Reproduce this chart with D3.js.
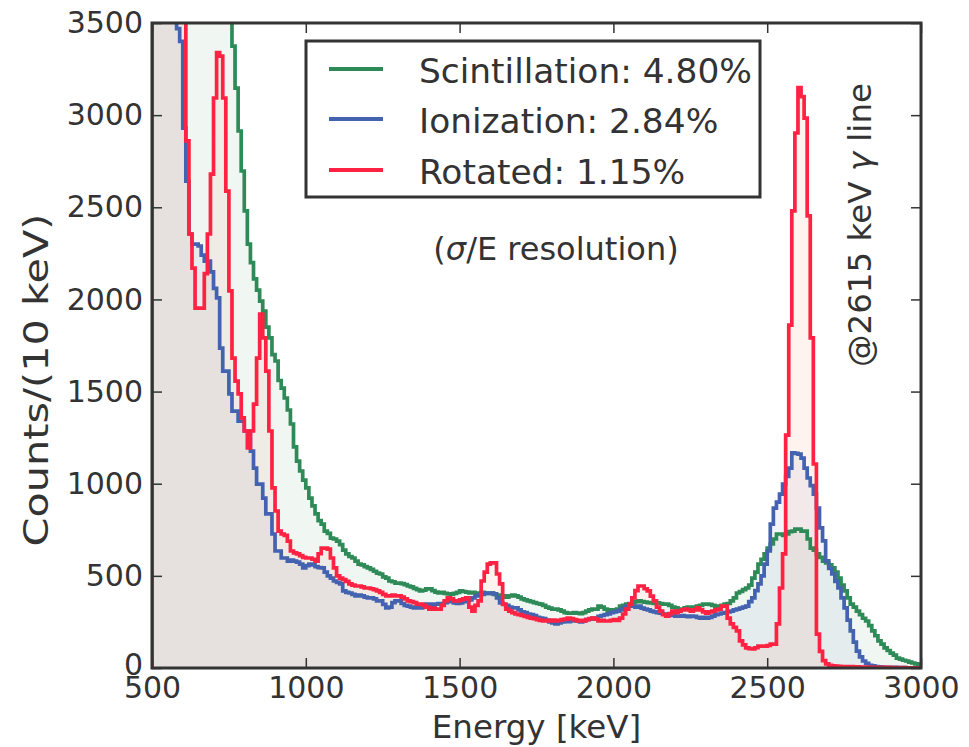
<!DOCTYPE html>
<html><head><meta charset="utf-8">
<script src="https://cdn.jsdelivr.net/npm/d3@7"></script>
<style>
body{margin:0;background:#fff}
svg text{font-family:"DejaVu Sans",sans-serif;fill:#333}
</style>
</head><body>
<svg id="c" width="969" height="747"></svg>
<script>
// ---------------- data (counts per 10 keV bin, bins start at 500 keV) ----------------
const binStart = 500, binWidth = 10, binCount = 250;
const seriesNames = ["Scintillation: 4.80%", "Ionization: 2.84%", "Rotated: 1.15%"];
const xTicks = [500, 1000, 1500, 2000, 2500, 3000];
const yTicks = [0, 500, 1000, 1500, 2000, 2500, 3000, 3500];

const scintillation = [
8500,8100,7700,7300,7000,6700,6400,6100,5850,5600,
5400,5200,5000,4850,4700,4550,4400,4300,4200,4100,
4000,3900,3800,3700,3650,3580,3375,3147,2914,2697,
2480,2300,2200,2111,2050,1991,1937,1850,1791,1700,
1666,1560,1519,1465,1400,1324,1200,1123,1069,1020,
977,922,880,836,800,781,743,730,705,700,
689,670,640,619,605,597,580,564,560,550,
543,535,525,515,510,495,488,472,468,461,
461,458,452,445,440,432,425,418,422,429,
429,420,412,407,410,405,402,400,405,410,
418,415,412,407,410,407,405,410,407,405,
407,400,395,391,391,385,391,395,391,385,
375,370,364,360,355,350,347,340,330,325,
320,320,315,309,300,298,298,300,298,295,
300,309,315,320,320,336,330,320,309,315,
309,320,336,340,347,350,355,360,364,360,
358,355,353,350,353,350,347,347,340,330,
326,320,320,326,330,326,330,336,340,347,
347,345,340,336,336,340,347,350,364,380,
407,415,425,434,450,488,520,564,590,619,
650,673,700,727,727,720,727,740,743,754,
754,743,743,700,651,640,619,600,580,570,
560,543,520,488,450,418,380,347,330,309,
290,270,255,230,201,175,147,130,109,95,
81,70,54,48,42,38,32,27,22,18
];

const ionization = [
7500,7000,6500,6000,5500,5000,4500,3800,3470,3400,
2930,2642,2355,2300,2300,2290,2240,2208,2208,2150,
2060,2008,1736,1611,1611,1487,1394,1394,1340,1340,
1286,1286,1177,1085,998,998,922,836,836,727,
635,635,597,597,580,585,580,575,564,543,
555,564,560,550,545,543,520,500,488,472,
465,456,418,410,407,400,391,395,391,385,
380,380,375,364,364,345,326,330,355,364,
364,350,340,336,330,326,330,326,335,347,
347,340,347,350,347,355,364,360,353,350,
353,360,364,370,380,391,395,400,407,405,
407,402,380,353,345,340,330,326,326,315,
305,300,293,290,285,275,271,268,260,250,
245,239,245,250,255,252,255,258,255,250,
255,262,265,271,271,280,285,290,293,300,
305,309,315,325,336,340,336,330,336,325,
320,315,309,305,300,298,293,293,290,285,
282,282,285,282,278,282,280,275,271,275,
271,275,282,290,293,298,300,305,309,315,
320,325,330,336,360,380,420,456,500,564,
635,781,868,900,944,998,1040,1085,1167,1165,
1161,1139,1085,1031,990,944,868,760,690,581,
540,510,470,434,380,326,260,201,140,92,
60,38,25,15,11,8,6,5,4,4,
3,3,2,2,2,1,1,1,1,1
];

const rotated = [
9500,9000,8500,8000,7500,7000,6500,6000,5200,4400,
3700,2860,2355,2170,1953,1953,1953,2140,2355,2680,
3093,3340,3320,3093,2588,2046,1682,1557,1487,1357,
1286,1194,1286,1432,1682,1921,1791,1611,1286,977,
852,743,727,720,689,635,625,619,610,600,
597,597,590,580,620,651,651,645,597,543,
500,488,480,470,456,450,445,445,440,434,
434,430,425,418,410,400,391,391,395,391,
391,385,375,364,360,355,347,347,340,330,
320,325,320,320,340,364,380,375,364,364,
370,375,380,330,309,340,364,472,520,564,
570,570,510,456,347,320,309,300,293,290,
285,280,275,271,268,262,258,255,258,255,
260,255,258,262,265,271,268,262,255,258,
255,262,268,271,265,255,258,255,255,258,
262,258,271,293,320,347,380,420,445,445,
430,418,390,364,330,309,290,282,295,309,
300,309,315,320,315,309,315,326,315,305,
298,305,309,315,320,336,336,271,239,220,
201,147,125,109,105,103,110,119,119,119,
122,130,130,239,434,619,1264,1861,2480,2903,
3150,3100,2984,2453,1791,1107,184,90,40,22,
14,11,10,9,8,8,7,7,6,6,
5,5,5,4,4,4,3,3,3,3,
2,2,2,2,2,1,1,1,1,1
];

// ---------------- drawing ----------------
const M = {left:152, right:921, top:23, bottom:668};
const svg = d3.select("#c");
const x = d3.scaleLinear().domain([500, 3000]).range([M.left, M.right]);
const y = d3.scaleLinear().domain([0, 3500]).range([M.bottom, M.top]);

const edges = d3.range(binCount + 1).map(i => binStart + binWidth * i);

const styles = [
  {vals: scintillation, line: "#2e8b57", fill: "rgb(46,139,87)",  op: 0.07},
  {vals: ionization,    line: "#4363b0", fill: "rgb(64,96,176)",  op: 0.07},
  {vals: rotated,       line: "#ff2242", fill: "rgb(255,100,60)", op: 0.08}
];

svg.append("defs").append("clipPath").attr("id","plotclip")
  .append("rect").attr("x", M.left).attr("y", M.top)
  .attr("width", M.right - M.left).attr("height", M.bottom - M.top);

function stepPts(vals){
  const p = [{e: edges[0], v: 0}];
  vals.forEach((v,i) => p.push({e: edges[i], v}));
  p.push({e: edges[binCount], v: vals[binCount-1]});
  p.push({e: edges[binCount], v: 0});
  return p;
}

const area = d3.area().curve(d3.curveStepAfter)
  .x(d => x(d.e)).y0(y(0)).y1(d => y(d.v));
const line = d3.line().curve(d3.curveStepAfter)
  .x(d => x(d.e)).y(d => y(d.v));

const plot = svg.append("g").attr("clip-path", "url(#plotclip)");
styles.forEach(s => {
  const p = s.vals.map((v,i) => ({e: edges[i], v}));
  p.push({e: edges[binCount], v: s.vals[binCount-1]});
  plot.append("path").attr("d", area(p))
    .attr("fill", s.fill).attr("fill-opacity", s.op).attr("stroke", "none");
});
styles.forEach(s => {
  plot.append("path").attr("d", line(stepPts(s.vals)))
    .attr("fill", "none").attr("stroke", s.line)
    .attr("stroke-width", 3.7).attr("stroke-linejoin", "miter");
});

// axes (ticks inward on all four sides)
function styleAxis(g, fs){
  g.select(".domain").remove();
  g.selectAll(".tick line").attr("stroke", "#333").attr("stroke-width", 1.5);
  g.selectAll(".tick text").attr("font-size", fs).attr("fill", "#333")
    .attr("font-family", "DejaVu Sans");
  g.attr("font-family", null).attr("font-size", null);
}
svg.append("g").attr("transform", `translate(0,${M.bottom})`)
  .call(d3.axisBottom(x).tickValues(xTicks).tickSize(-10).tickPadding(9).tickFormat(d3.format("d")))
  .call(g => styleAxis(g, 30));
svg.append("g").attr("transform", `translate(0,${M.top})`)
  .call(d3.axisTop(x).tickValues(xTicks).tickSize(-10).tickFormat(""))
  .call(g => styleAxis(g, 30));
svg.append("g").attr("transform", `translate(${M.left},0)`)
  .call(d3.axisLeft(y).tickValues(yTicks).tickSize(-10).tickPadding(9).tickFormat(d3.format("d")))
  .call(g => styleAxis(g, 30))
  .call(g => g.selectAll(".tick text").filter(d => d === 0).attr("dy", "0.2em"));
svg.append("g").attr("transform", `translate(${M.right},0)`)
  .call(d3.axisRight(y).tickValues(yTicks).tickSize(-10).tickFormat(""))
  .call(g => styleAxis(g, 30));

// frame
svg.append("rect").attr("x", M.left).attr("y", M.top)
  .attr("width", M.right - M.left).attr("height", M.bottom - M.top)
  .attr("fill", "none").attr("stroke", "#333").attr("stroke-width", 3);

// axis labels
svg.append("text").attr("x", (M.left + M.right)/2).attr("y", 738)
  .attr("text-anchor", "middle").attr("font-size", 32.5).text("Energy [keV]");
svg.append("text").attr("transform", "translate(48,380) rotate(-90)")
  .attr("text-anchor", "middle").attr("font-size", 34)
  .attr("textLength", 333).attr("lengthAdjust", "spacingAndGlyphs")
  .text("Counts/(10 keV)");

// legend
const lg = svg.append("g");
lg.append("rect").attr("x", 306).attr("y", 41).attr("width", 454).attr("height", 156)
  .attr("fill", "#fff").attr("stroke", "#333").attr("stroke-width", 3);
const rowY = [69, 119, 170];
styles.forEach((s, i) => {
  lg.append("line").attr("x1", 329).attr("x2", 383).attr("y1", rowY[i]).attr("y2", rowY[i])
    .attr("stroke", s.line).attr("stroke-width", 4);
  lg.append("text").attr("x", 419).attr("y", rowY[i] + 13.5)
    .attr("font-size", 34.4).text(seriesNames[i]);
});

// annotations
const t1 = svg.append("text").attr("x", 556).attr("y", 260)
  .attr("text-anchor", "middle").attr("font-size", 32);
t1.append("tspan").text("(");
t1.append("tspan").attr("font-style", "italic").text("σ");
t1.append("tspan").text("/E resolution)");

const t2 = svg.append("text").attr("transform", "translate(871,225) rotate(-90)")
  .attr("text-anchor", "middle").attr("font-size", 32.5);
t2.append("tspan").text("@2615 keV ");
t2.append("tspan").attr("font-style", "italic").text("γ");
t2.append("tspan").text(" line");
</script>
</body></html>
